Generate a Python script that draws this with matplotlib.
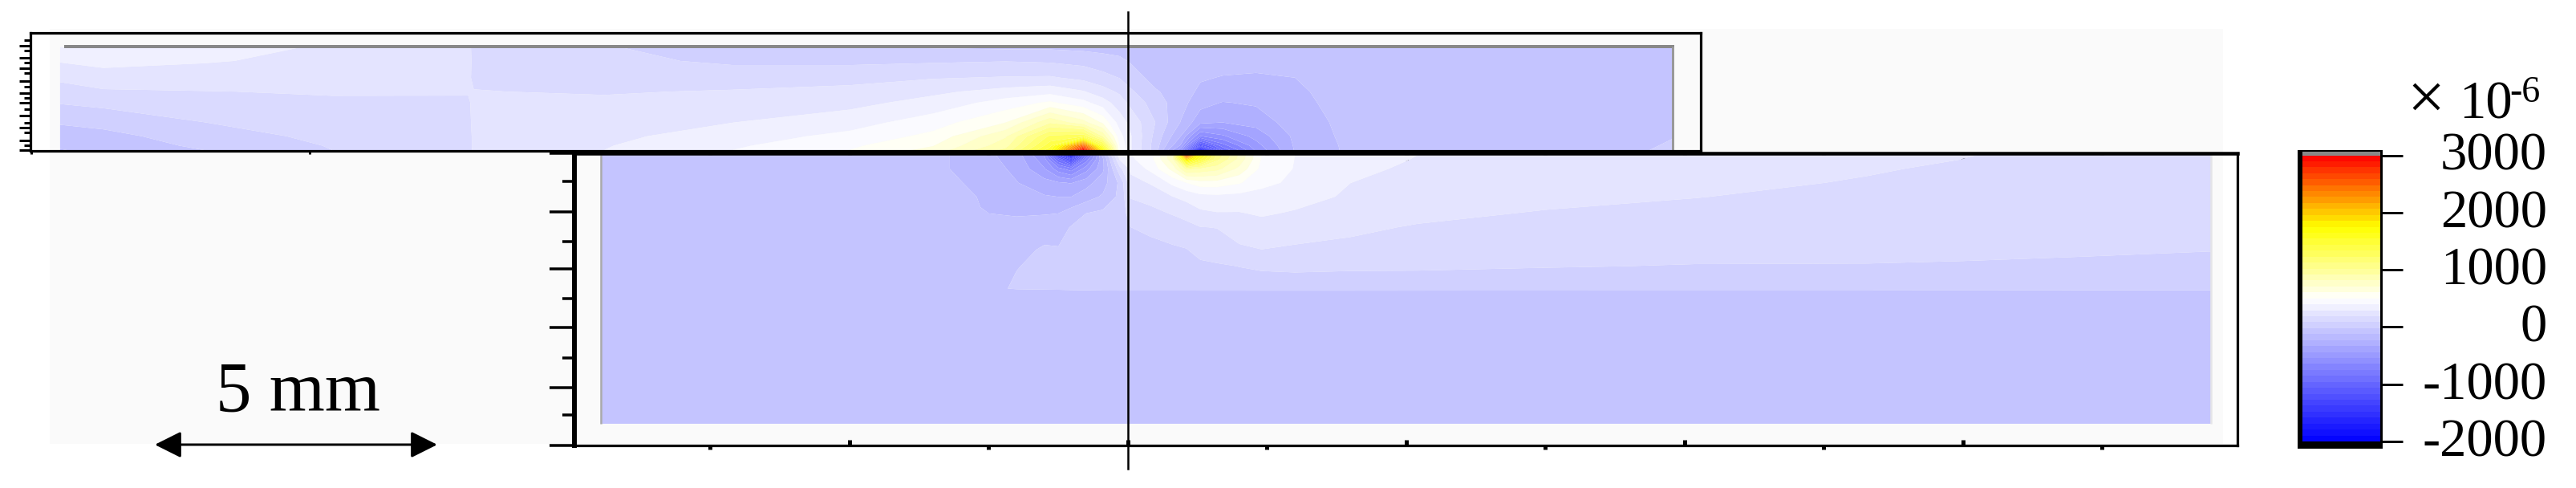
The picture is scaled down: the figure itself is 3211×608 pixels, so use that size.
import numpy as np
import matplotlib
matplotlib.use("Agg")
import matplotlib.pyplot as plt
from matplotlib.colors import LinearSegmentedColormap
from matplotlib.patches import Rectangle, FancyArrowPatch
from matplotlib.lines import Line2D
from matplotlib.ticker import NullLocator
from matplotlib.transforms import ScaledTranslation

W, H, DPI = 3212, 608, 100
PX_PER_MM = 69.4
X0 = 1406

# ---------- data (strain x 1e-6, positions in mm from the centre line / interface) ----------
top_x = [-19.18, -18.4, -16.6, -14.3, -11.85, -11.75, -9.4, -7.1, -5, -3.5, -2.2, -1.4, -0.8, -0.45, -0.15,
         0.05, 0.5, 0.95, 1.3, 1.7, 2.3, 3.0, 3.8, 6, 8.4, 9.78]
top_y = [0, 0.08, 0.25, 0.5, 0.85, 1.05, 1.3, 1.6, 1.85]
top_strain = [
    [-130, -110, -70, -10, 90, 140, 210, 300, 340],
    [-100, -85, -55, 15, 110, 175, 245, 325, 370],
    [-21, 0, 35, 83, 145, 185, 240, 300, 330],
    [83, 90, 110, 130, 175, 195, 230, 265, 280],
    [170, 172, 175, 180, 183, 190, 200, 205, 200],
    [195, 195, 195, 195, 195, 190, 175, 175, 175],
    [292, 285, 265, 240, 205, 180, 150, 110, 90],
    [396, 380, 345, 290, 230, 195, 140, 65, 35],
    [500, 480, 425, 350, 260, 215, 155, 60, -10],
    [640, 600, 530, 450, 330, 270, 180, 70, -30],
    [950, 880, 800, 600, 440, 330, 195, 80, -40],
    [1500, 1400, 1250, 900, 520, 360, 200, 70, -40],
    [3000, 2500, 1300, 750, 430, 300, 160, 50, -50],
    [1700, 1400, 900, 580, 340, 230, 120, 20, -55],
    [520, 500, 440, 350, 240, 170, 80, 0, -60],
    [300, 300, 300, 260, 160, 100, 30, -30, -65],
    [30, 30, 50, 80, 30, -10, -60, -70, -70],
    [-500, -350, -230, -130, -85, -75, -72, -70, -70],
    [-1950, -1200, -650, -300, -190, -145, -115, -80, -70],
    [-950, -800, -560, -330, -235, -165, -130, -90, -70],
    [-520, -480, -400, -290, -215, -165, -135, -100, -70],
    [-220, -215, -205, -175, -150, -140, -125, -90, -70],
    [-125, -123, -115, -110, -100, -95, -85, -72, -70],
    [-90, -88, -85, -80, -72, -70, -70, -70, -70],
    [-70, -70, -70, -70, -70, -70, -70, -70, -70],
    [0, -10, -25, -60, -68, -70, -70, -70, -70],
]

bot_x = [-9.47, -4, -3.2, -2.65, -2, -1.5, -1.25, -1.02, -0.75, -0.45, -0.15, 0.05, 0.4, 0.8, 1.05, 1.3, 1.6,
         2.0, 2.4, 3.0, 4.0, 5.2, 7.5, 10.2, 13.3, 15, 17, 19.45]
bot_depth = [0, 0.08, 0.25, 0.5, 0.75, 1.05, 1.3, 1.7, 2.0, 2.40, 2.45, 3.5, 4.83]
bot_strain = [
    [-70, -70, -70, -70, -70, -70, -70, -70, -70, -70, -70, -70, -70],
    [-80, -80, -78, -72, -70, -70, -70, -70, -70, -70, -70, -70, -70],
    [-125, -125, -125, -110, -90, -75, -70, -70, -70, -70, -70, -70, -70],
    [-190, -185, -175, -145, -130, -122, -100, -75, -70, -70, -70, -70, -70],
    [-280, -270, -250, -225, -170, -135, -90, -60, -25, -5, -70, -70, -70],
    [-550, -500, -430, -290, -220, -130, -80, -5, 5, 10, -70, -70, -70],
    [-1300, -950, -600, -320, -230, -125, -55, -15, 5, 10, -60, -70, -70],
    [-1950, -1300, -700, -340, -230, -70, -15, 5, 10, 15, -50, -70, -70],
    [-900, -700, -480, -270, -170, -20, 10, 15, 15, 20, -45, -70, -70],
    [-180, -250, -250, -170, -110, 5, 20, 25, 20, 25, -40, -70, -70],
    [350, 300, 150, 0, 5, 20, 30, 35, 35, 35, -40, -70, -70],
    [390, 380, 320, 250, 195, 130, 83, 50, 40, 30, -40, -70, -70],
    [460, 450, 420, 300, 225, 155, 100, 60, 45, 30, -40, -70, -70],
    [800, 780, 640, 420, 290, 195, 130, 70, 45, 30, -40, -70, -70],
    [2700, 1900, 950, 500, 320, 230, 150, 80, 50, 30, -40, -70, -70],
    [1600, 1450, 900, 560, 360, 270, 185, 120, 60, 35, -40, -70, -70],
    [1100, 1050, 850, 560, 370, 285, 190, 140, 70, 35, -40, -70, -70],
    [800, 780, 680, 510, 360, 285, 225, 175, 85, 35, -40, -70, -70],
    [500, 490, 470, 430, 350, 305, 250, 187, 95, 40, -40, -70, -70],
    [396, 394, 390, 370, 335, 280, 230, 175, 100, 40, -40, -70, -70],
    [350, 345, 320, 292, 275, 240, 205, 165, 95, 40, -40, -70, -70],
    [292, 285, 270, 260, 240, 210, 180, 130, 95, 35, -40, -70, -70],
    [265, 260, 250, 235, 215, 180, 155, 115, 87, 30, -40, -70, -70],
    [245, 240, 225, 210, 190, 160, 140, 105, 80, 25, -40, -70, -70],
    [220, 215, 195, 180, 160, 140, 125, 100, 80, 25, -40, -70, -70],
    [190, 187, 175, 160, 150, 130, 115, 95, 78, 20, -40, -70, -70],
    [170, 168, 160, 150, 135, 120, 105, 90, 75, 15, -40, -70, -70],
    [150, 148, 140, 130, 120, 110, 100, 85, 70, 15, -40, -70, -70],
]

levels = np.linspace(-2000, 3000, 49)
bar_ticks = [-2000, -1000, 0, 1000, 2000, 3000]
bar_labels = ["-2000", "-1000", "0", "1000", "2000", "3000"]

bot_major_x = [-5, 0, 5, 10, 15]
bot_minor_x = [-7.5, -2.5, 2.5, 7.5, 12.5, 17.5]
bot_major_d = [-0.03, 1.02, 2.05, 3.1, 4.18, 5.22]
bot_minor_d = [0.48, 1.55, 2.58, 3.65, 4.67]
top_major_y = [1.88, 1.65, 1.47, 1.24, 1.03, 0.85, 0.62, 0.40, 0.17, 0.0]
top_minor_y = [1.98, 1.79, 1.57, 1.38, 1.14, 0.94, 0.74, 0.49, 0.31, 0.08]
top_x_ticks = [-19.7, -14.7]

# ---------- helpers ----------
px = lambda p: p * 72.0 / DPI
def add_axes(l, t, r, b, **kw):
    return fig.add_axes([l / W, 1 - b / H, (r - l) / W, (b - t) / H], **kw)
def rect(l, t, r, b, color, z=0):
    fig.add_artist(Rectangle((l / W, 1 - b / H), (r - l) / W, (b - t) / H, transform=fig.transFigure,
                             facecolor=color, edgecolor="none", zorder=z))
def ftext(x, y, s, size, ha="left"):
    fig.text(x / W, 1 - y / H, s, fontsize=size, ha=ha, va="baseline", family="Liberation Serif",
             color="black", zorder=10)
to_mm = lambda p: (p - X0) / PX_PER_MM

cmap = LinearSegmentedColormap.from_list(
    "strain", [(0.0, (0, 0, 1)), (0.5, (1, 1, 1)), (0.75, (1, 1, 0)), (1.0, (1, 0, 0))], N=256)

fig = plt.figure(figsize=(W / DPI, H / DPI), dpi=DPI, facecolor="white")
BG = "#fafafa"
rect(62, 36, 2771, 553, BG, z=-5)
rect(38, 41, 62, 188, "white", z=-4)
rect(716, 553, 2789, 555, "white", z=-4)

# ---------- upper panel ----------
axT = add_axes(38, 41, 2120, 188)
axT.patch.set_alpha(0)
axT.set_xlim(to_mm(38), to_mm(2120))
axT.set_ylim((187 - 188) / PX_PER_MM, (187 - 41) / PX_PER_MM)
cs = axT.contourf(top_x, top_y, np.array(top_strain).T, levels=levels, cmap=cmap, antialiased=True)
axT.plot([to_mm(80), to_mm(2087)], [1.86, 1.86], color="#888888", lw=px(4), solid_capstyle="butt")
axT.plot([9.78, 9.78], [0, 1.86], color="#999999", lw=px(3), solid_capstyle="butt")
axT.set_xticks(top_x_ticks)
axT.set_xticklabels([])
axT.tick_params(axis="x", direction="out", length=px(4), width=px(3))
axT.set_yticks(top_major_y)
axT.set_yticklabels([])
axT.yaxis.set_ticks(top_minor_y, minor=True)
axT.tick_params(axis="y", which="major", direction="out", length=px(14), width=px(3))
axT.tick_params(axis="y", which="minor", direction="out", length=px(8), width=px(3))
for s in axT.spines.values():
    s.set_linewidth(px(3.2))

# ---------- lower panel ----------
axB = add_axes(716, 191, 2789, 555)
axB.patch.set_alpha(0)
axB.set_xlim(to_mm(716), to_mm(2789))
axB.set_ylim((555 - 193) / PX_PER_MM, (191 - 193) / PX_PER_MM)
axB.contourf(bot_x, bot_depth, np.array(bot_strain).T, levels=levels, cmap=cmap, antialiased=True)
axB.plot([-9.47, -9.47], [0, 4.83], color="#aaaaaa", lw=px(2.5), solid_capstyle="butt")
axB.plot([19.45, 19.45], [0, 4.83], color="#e4e4e8", lw=px(2.5), solid_capstyle="butt")
axB.set_xticks(bot_major_x)
axB.set_xticklabels([])
axB.set_xticks(bot_minor_x, minor=True)
axB.tick_params(axis="x", which="major", direction="in", length=px(7), width=px(5))
axB.tick_params(axis="x", which="minor", direction="out", length=px(5), width=px(5))
secB = axB.secondary_xaxis("top")
secB.set_xticks(bot_major_x)
secB.set_xticklabels([])
secB.set_xticks(bot_minor_x, minor=True)
secB.tick_params(axis="x", which="major", direction="in", length=px(9), width=px(5))
secB.tick_params(axis="x", which="minor", direction="in", length=px(5), width=px(5))
secB.spines["top"].set_visible(False)
axB.set_yticks(bot_major_d)
axB.set_yticklabels([])
axB.set_yticks(bot_minor_d, minor=True)
axB.tick_params(axis="y", which="major", direction="out", length=px(31), width=px(3.5))
axB.tick_params(axis="y", which="minor", direction="out", length=px(15), width=px(3.5))
axB.spines["left"].set_linewidth(px(6))
axB.spines["top"].set_linewidth(px(4.5))
axB.spines["right"].set_linewidth(px(3.2))
axB.spines["bottom"].set_linewidth(px(3.2))

# ---------- centre line ----------
fig.add_artist(Line2D([X0 / W, X0 / W], [1 - 15 / H, 1 - 584 / H], transform=fig.transFigure,
                      color="black", lw=px(2.5), zorder=8))

# ---------- colour bar ----------
rect(2864, 187, 2970, 559, "black", z=1)
rect(2870, 189, 2967, 194, "#888888", z=2)
cax = add_axes(2870, 193.5, 2967, 550)
cax.set_zorder(3)
cb = fig.colorbar(cs, cax=cax)
cb.outline.set_visible(False)
cb.set_ticks(bar_ticks)
cb.set_ticklabels(bar_labels)
cax.yaxis.set_minor_locator(NullLocator())
cax.tick_params(axis="y", length=px(28), width=px(3), pad=px(3175 - 2967 - 28), labelsize=48)
lift = ScaledTranslation(0, 5 / DPI, fig.dpi_scale_trans)
for lab in cax.get_yticklabels():
    lab.set_ha("right")
    lab.set_family("Liberation Serif")
    lab.set_transform(lab.get_transform() + lift)

ftext(3000, 148, "\u00d7", 60)
ftext(3065, 148, "10", 48)
ftext(3128, 127, "-6", 33)

# ---------- scale bar ----------
ftext(269, 512, "5 mm", 64)
fig.add_artist(FancyArrowPatch(
    (193 / W, 1 - 554 / H), (545 / W, 1 - 554 / H), transform=fig.transFigure,
    arrowstyle="<|-|>,head_length=%f,head_width=%f" % (px(28), px(14)), mutation_scale=1,
    color="black", lw=px(3), shrinkA=0, shrinkB=0, zorder=9))

fig.savefig("out.png", dpi=DPI)
